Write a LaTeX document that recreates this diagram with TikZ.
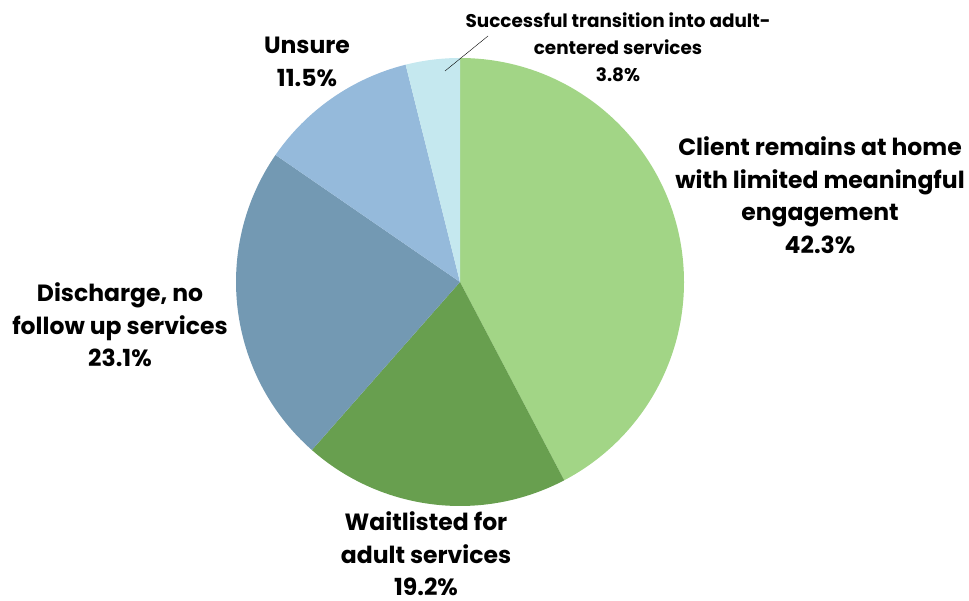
\documentclass[tikz,border=0pt]{standalone}
\usepackage{fontspec}
\setmainfont{Poppins}
\usetikzlibrary{positioning, calc}
\definecolor{greenLight}{HTML}{A2D586}
\definecolor{greenDark}{HTML}{689F4F}
\definecolor{blueGrey}{HTML}{7399B3}
\definecolor{blueSoft}{HTML}{95BADB}
\definecolor{bluePale}{HTML}{C5E8EF}
\newcommand{\PieSlice}[3]{
    % #1: start angle, #2: end angle, #3: colour
    \fill[#3] (460,318) -- ++(#1:224) arc[start angle=#1, end angle=#2, radius=224] -- cycle;
}

\begin{document}
\begin{tikzpicture}[x=1pt, y=1pt,
        bigLabel/.style={align=center, inner sep=0pt, font=\fontsize{23.5}{32.5}\selectfont\bfseries},
        smallLabel/.style={align=center, inner sep=0pt, font=\fontsize{18.4}{27}\selectfont\bfseries}]
        \useasboundingbox (0,0) rectangle (969,600);

        % Slices, clockwise from the top
        \PieSlice{90}{-62.28}{greenLight}
        \PieSlice{-62.28}{-131.4}{greenDark}
        \PieSlice{-131.4}{-214.56}{blueGrey}
        \PieSlice{-214.56}{-255.96}{blueSoft}
        \PieSlice{-255.96}{-270}{bluePale}

        % Labels
        \node[bigLabel] (client) at (820,405) {Client remains at home\\with limited meaningful\\engagement\\42.3\%};
        \node[bigLabel] (wait) at (426,46) {Waitlisted for\\adult services\\19.2\%};
        \node[bigLabel] (discharge) at (120,275) {Discharge, no\\follow up services\\23.1\%};
        \node[bigLabel] (unsure) at (307,538) {Unsure\\11.5\%};
        \node[smallLabel] (success) at (618,553) {Successful transition into adult-\\centered services\\3.8\%};

        % Leader line
        \coordinate (leadIn) at (445,529);
        \coordinate (leadOut) at (488,564);
        \draw[thin] (leadIn) -- (leadOut);
    \end{tikzpicture}
\end{document}
